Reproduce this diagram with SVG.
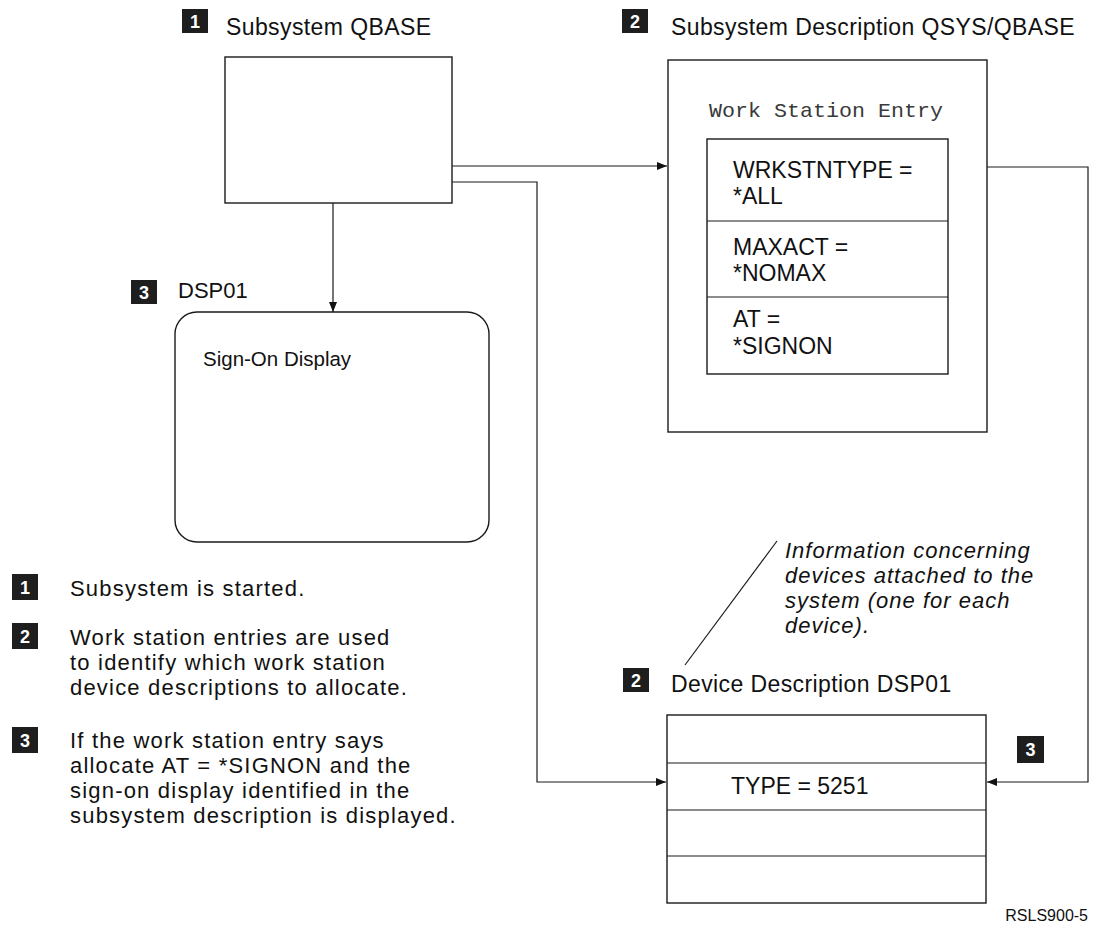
<svg xmlns="http://www.w3.org/2000/svg" width="1094" height="938" viewBox="0 0 1094 938">
  <style>
    .box { fill: none; stroke: #1a1a1a; stroke-width: 1.4; }
    .div { fill: none; stroke: #1a1a1a; stroke-width: 1.2; }
    .conn { fill: none; stroke: #1a1a1a; stroke-width: 1.2; }
    .t { font-family: "Liberation Sans", Arial, sans-serif; fill: #111; }
    .h { font-size: 23px; letter-spacing: 0.4px; }
    .f { font-size: 23px; }
    .n { font-size: 22px; letter-spacing: 1.2px; }
    .it { font-size: 22px; font-style: italic; letter-spacing: 1px; }
    .mono { font-family: "Liberation Mono", "DejaVu Sans Mono", monospace; font-size: 21px; fill: #3a3a3a; }
    .badge rect { fill: #1e1e1e; }
    .badge text { font-family: "Liberation Sans", Arial, sans-serif; font-size: 18px; font-weight: bold; fill: #fff; text-anchor: middle; }
  </style>
  <defs>
    <marker id="arrow" viewBox="0 0 10 8" refX="10" refY="4" markerWidth="10" markerHeight="8" markerUnits="userSpaceOnUse" orient="auto">
      <path d="M0,0 L10,4 L0,8 Z" fill="#111"/>
    </marker>
  </defs>

  <rect width="1094" height="938" fill="#fff"/>

  <!-- Subsystem QBASE -->
  <g id="subsystem">
    <g class="badge"><rect x="182" y="9" width="26" height="24"/><text x="195" y="28">1</text></g>
    <text class="t h" x="226" y="35">Subsystem QBASE</text>
    <rect class="box" x="225" y="57" width="227" height="146"/>
  </g>

  <!-- Subsystem description with its work station entry -->
  <g id="subsystem-description">
    <g class="badge"><rect x="622" y="9" width="26" height="24"/><text x="635" y="28">2</text></g>
    <text class="t h" x="671" y="35">Subsystem Description QSYS/QBASE</text>
    <rect class="box" x="668" y="60" width="319" height="372"/>
    <text class="mono" x="709" y="117" textLength="234" lengthAdjust="spacingAndGlyphs">Work Station Entry</text>
  </g>

  <g id="work-station-entry">
    <rect class="box" x="707" y="139" width="241" height="235"/>
    <line class="div" x1="707" y1="221" x2="948" y2="221"/>
    <line class="div" x1="707" y1="297" x2="948" y2="297"/>
    <text class="t f" x="733" y="178">WRKSTNTYPE =</text>
    <text class="t f" x="733" y="204">*ALL</text>
    <text class="t f" x="733" y="255">MAXACT =</text>
    <text class="t f" x="733" y="281">*NOMAX</text>
    <text class="t f" x="733" y="327">AT  =</text>
    <text class="t f" x="733" y="354">*SIGNON</text>
  </g>

  <!-- Display station DSP01 -->
  <g id="dsp01">
    <g class="badge"><rect x="131" y="280" width="26" height="24"/><text x="144" y="299">3</text></g>
    <text class="t" x="178" y="298" font-size="22">DSP01</text>
    <rect class="box" x="175" y="312" width="314" height="230" rx="22" ry="22"/>
    <text class="t" x="203" y="366" font-size="20.5">Sign-On Display</text>
  </g>

  <!-- Device description DSP01 -->
  <g id="device-description">
    <g class="badge"><rect x="623" y="668" width="26" height="24"/><text x="636" y="687">2</text></g>
    <text class="t h" x="671" y="692">Device Description DSP01</text>
    <rect class="box" x="667" y="715" width="319" height="188"/>
    <line class="div" x1="667" y1="763" x2="986" y2="763"/>
    <line class="div" x1="667" y1="810" x2="986" y2="810"/>
    <line class="div" x1="667" y1="856" x2="986" y2="856"/>
    <text class="t f" x="731" y="794">TYPE = 5251</text>
  </g>

  <!-- Note on device descriptions -->
  <g id="device-note">
    <line class="conn" x1="777" y1="541" x2="685" y2="665"/>
    <text class="t it" x="785" y="558">Information concerning</text>
    <text class="t it" x="785" y="583">devices attached to the</text>
    <text class="t it" x="785" y="608">system (one for each</text>
    <text class="t it" x="785" y="633">device).</text>
  </g>

  <!-- Connectors -->
  <g id="connectors">
    <path class="conn" d="M452,166 H667" marker-end="url(#arrow)"/>
    <path class="conn" d="M452,182 H537 V782 H666" marker-end="url(#arrow)"/>
    <path class="conn" d="M333,203 V312" marker-end="url(#arrow)"/>
    <path class="conn" d="M987,167 H1088 V782 H987" marker-end="url(#arrow)"/>
    <g class="badge"><rect x="1017" y="736" width="27" height="27"/><text x="1030.5" y="756">3</text></g>
  </g>

  <!-- Legend -->
  <g id="legend">
    <g class="badge"><rect x="12" y="574" width="26" height="26"/><text x="25" y="594">1</text></g>
    <text class="t n" x="70" y="596">Subsystem is started.</text>
    <g class="badge"><rect x="12" y="623" width="26" height="26"/><text x="25" y="643">2</text></g>
    <text class="t n" x="70" y="645">Work station entries are used</text>
    <text class="t n" x="70" y="670">to identify which work station</text>
    <text class="t n" x="70" y="695">device descriptions to allocate.</text>
    <g class="badge"><rect x="12" y="727" width="26" height="26"/><text x="25" y="747">3</text></g>
    <text class="t n" x="70" y="748">If the work station entry says</text>
    <text class="t n" x="70" y="773">allocate AT = *SIGNON and the</text>
    <text class="t n" x="70" y="798">sign-on display identified in the</text>
    <text class="t n" x="70" y="823">subsystem description is displayed.</text>
  </g>

  <text class="t" x="1088" y="921" font-size="16" text-anchor="end">RSLS900-5</text>
</svg>
